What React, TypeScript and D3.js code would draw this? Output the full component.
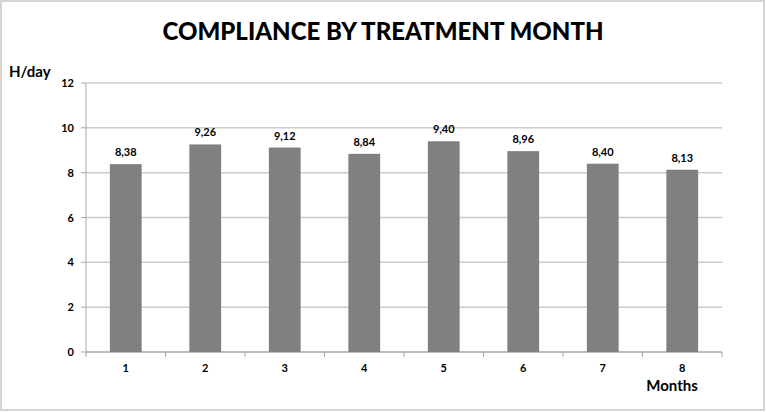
import React from "react";
import * as d3 from "d3";

const months = ["1", "2", "3", "4", "5", "6", "7", "8"];
const values = [8.38, 9.26, 9.12, 8.84, 9.4, 8.96, 8.4, 8.13];
const yTicks = [0, 2, 4, 6, 8, 10, 12];

const W = 766;
const H = 412;
const left = 86;
const right = 722;
const top = 83;
const bottom = 352;
const font = "Lato, 'Open Sans', sans-serif";

export default function App() {
  const x = d3.scaleBand<string>().domain(months).range([left, right]).paddingInner(0.6).paddingOuter(0.3);
  const xb = d3.scaleBand<string>().domain(months).range([left, right]);
  const y = d3.scaleLinear().domain([0, 12]).range([bottom, top]);
  const fmt = (v: number) => v.toFixed(2).replace(".", ",");

  return (
    <svg width={W} height={H} style={{ position: "absolute", left: 0, top: 0, background: "#fff" }}>
      <rect x={1} y={1} width={W - 3} height={H - 3} fill="#fff" stroke="#d4d4d4" strokeWidth={2} />
      <text x={383} y={40} textAnchor="middle" fontFamily={font} fontWeight={900} fontSize={25} textLength={441} lengthAdjust="spacingAndGlyphs" fill="#000">
        COMPLIANCE BY TREATMENT MONTH
      </text>
      <text x={9} y={77} fontFamily={font} fontWeight="bold" fontSize={15} fill="#000">H/day</text>
      {yTicks.map((t) => (
        <g key={t}>
          {t > 0 && <line x1={left} x2={right} y1={y(t)} y2={y(t)} stroke="#cccccc" strokeWidth={1.5} />}
          <line x1={left - 5} x2={left} y1={y(t)} y2={y(t)} stroke="#a6a6a6" strokeWidth={1} />
          <text x={left - 12} y={y(t) + 4} textAnchor="end" fontFamily={font} fontWeight="bold" fontSize={11} fill="#000">{t}</text>
        </g>
      ))}
      <line x1={left} x2={left} y1={top} y2={bottom} stroke="#a6a6a6" strokeWidth={1} />
      <line x1={left} x2={right} y1={bottom} y2={bottom} stroke="#a6a6a6" strokeWidth={1.5} />
      {months.map((m) => (
        <line key={"t" + m} x1={(xb(m) as number) + xb.bandwidth()} x2={(xb(m) as number) + xb.bandwidth()} y1={bottom} y2={bottom + 5} stroke="#a6a6a6" strokeWidth={1} />
      ))}
      <line x1={left} x2={left} y1={bottom} y2={bottom + 5} stroke="#a6a6a6" strokeWidth={1} />
      {months.map((m, i) => (
        <g key={m}>
          <rect x={x(m)} y={y(values[i])} width={x.bandwidth()} height={bottom - y(values[i])} fill="#808080" />
          <text x={(x(m) as number) + x.bandwidth() / 2} y={y(values[i]) - 8} textAnchor="middle" fontFamily={font} fontWeight="bold" fontSize={11} fill="#000">{fmt(values[i])}</text>
          <text x={(xb(m) as number) + xb.bandwidth() / 2} y={372} textAnchor="middle" fontFamily={font} fontWeight="bold" fontSize={11} fill="#000">{m}</text>
        </g>
      ))}
      <text x={672} y={391} textAnchor="middle" fontFamily={font} fontWeight="bold" fontSize={15} fill="#000">Months</text>
    </svg>
  );
}
